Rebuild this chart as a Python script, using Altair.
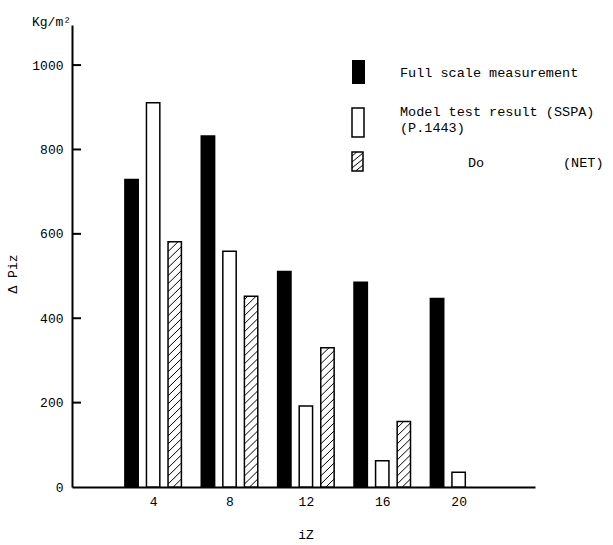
import math
import altair as alt
import pandas as pd

# ---------------- data ----------------
iz = [4, 8, 12, 16, 20]
full_scale = [729, 832, 511, 485, 447]
sspa = [911, 559, 192, 62, 35]
net = [581, 452, 330, 155, 0]
y_ticks = [0, 200, 400, 600, 800, 1000]
x_ticks = [4, 8, 12, 16, 20]

# ---------------- layout constants ----------------
FONT = "Liberation Mono"
W, H = 463, 462
Y_MAX = 1095
X_DOM = [-0.25, 24]
OFFSET = {"full": -1.13, "sspa": 0.0, "net": 1.13}
HALF = 0.35
HATCH_STEP = 19.0   # data units between hatch lines (vertical)
HATCH_RISE = 31.0   # data units a hatch line rises across a bar

rows = []
for name, vals in (("full", full_scale), ("sspa", sspa), ("net", net)):
    for x, v in zip(iz, vals):
        if v > 0:
            rows.append({"series": name, "iz": x, "value": v,
                         "left": x + OFFSET[name] - HALF,
                         "right": x + OFFSET[name] + HALF, "base": 0})
bars = pd.DataFrame(rows)


def hatch_lines(left, right, bottom, top, step, rise):
    out = []
    w = right - left
    k = 1
    while k * step - rise < top:
        y0 = k * step - rise + bottom
        y1 = k * step + bottom
        xa, ya = left, y0
        xb, yb = right, y1
        if ya < bottom:
            t = (bottom - y0) / rise
            xa, ya = left + t * w, bottom
        if yb > top:
            t = (top - y0) / rise
            xb, yb = left + t * w, top
        if yb > ya:
            out.append({"xa": xa, "ya": ya, "xb": xb, "yb": yb})
        k += 1
    return out


hrows = []
for _, r in bars[bars.series == "net"].iterrows():
    hrows += hatch_lines(r.left, r.right, 0, r.value, HATCH_STEP, HATCH_RISE)
hatch = pd.DataFrame(hrows)

xs = alt.Scale(domain=X_DOM, nice=False, zero=False)
ys = alt.Scale(domain=[0, Y_MAX], nice=False)

bar_layer = alt.Chart(bars).mark_rect(stroke="black", strokeWidth=1.5).encode(
    x=alt.X("left:Q", scale=xs,
            axis=alt.Axis(values=x_ticks, title=None, grid=False, ticks=False,
                          domainColor="black", domainWidth=2, format="d",
                          labelFont=FONT, labelFontSize=13, labelColor="black",
                          labelPadding=8)),
    x2="right:Q",
    y=alt.Y("value:Q", scale=ys,
            axis=alt.Axis(values=y_ticks, title=None, grid=False, ticks=False,
                          domainColor="black", domainWidth=2, format="d",
                          labelFont=FONT, labelFontSize=13, labelColor="black",
                          labelPadding=9)),
    y2="base:Q",
    fill=alt.Fill("series:N", scale=alt.Scale(domain=["full", "sspa", "net"],
                                               range=["black", "white", "white"]),
                  legend=None),
)

hatch_layer = alt.Chart(hatch).mark_rule(color="black", strokeWidth=1).encode(
    x=alt.X("xa:Q", scale=xs), x2="xb:Q",
    y=alt.Y("ya:Q", scale=ys), y2="yb:Q",
)

tick_df = pd.DataFrame({"t": [t for t in y_ticks if t > 0]})
tick_layer = alt.Chart(tick_df).mark_rule(color="black", strokeWidth=2).encode(
    y=alt.Y("t:Q", scale=ys), x=alt.value(0), x2=alt.value(9)
)


def txt(s, x, y, size=13.5, angle=0, align="left"):
    kw = dict(text=s, font=FONT, fontSize=size, color="black",
              align=align, baseline="middle")
    if angle:
        kw["angle"] = angle
    return alt.Chart().mark_text(**kw).encode(x=alt.value(x), y=alt.value(y))


# legend symbols (pixel space)
leg_full = alt.Chart().mark_rect(fill="black").encode(
    x=alt.value(280), x2=alt.value(293), y=alt.value(35), y2=alt.value(59))
leg_sspa = alt.Chart().mark_rect(fill="white", stroke="black", strokeWidth=1.5).encode(
    x=alt.value(280), x2=alt.value(292), y=alt.value(83), y2=alt.value(112))
leg_net = alt.Chart().mark_rect(fill="white", stroke="black", strokeWidth=1.5).encode(
    x=alt.value(280), x2=alt.value(291), y=alt.value(127), y2=alt.value(146))
leg_h = pd.DataFrame(hatch_lines(280, 291, 0, 19, 6, 9))
leg_h["ya"] = 146 - leg_h["ya"]
leg_h["yb"] = 146 - leg_h["yb"]
leg_hatch = alt.Chart(leg_h).mark_rule(color="black", strokeWidth=1).encode(
    x=alt.X("xa:Q", scale=None), x2="xb:Q",
    y=alt.Y("ya:Q", scale=None), y2="yb:Q")

texts = [
    txt("Full scale measurement", 328, 48),
    txt("Model test result (SSPA)", 328, 87),
    txt("(P.1443)", 328, 103),
    txt("Do", 396, 138),
    txt("(NET)", 491, 138),
    txt("Kg/m²", -40, -3, size=13),
    txt("Δ Piz", -59, 249, size=13, angle=270, align="center"),
    txt("iZ", 234, 510, size=13, align="center"),
]

chart = alt.layer(bar_layer, hatch_layer, tick_layer,
                  leg_full, leg_sspa, leg_net, leg_hatch, *texts).properties(
    width=W, height=H,
    autosize=alt.AutoSizeParams(type="none"),
    padding={"left": 72, "top": 25, "right": 78, "bottom": 58},
    background="white",
).configure_view(stroke=None)

chart.save("out.html", embed_options={"renderer": "svg", "actions": False})
